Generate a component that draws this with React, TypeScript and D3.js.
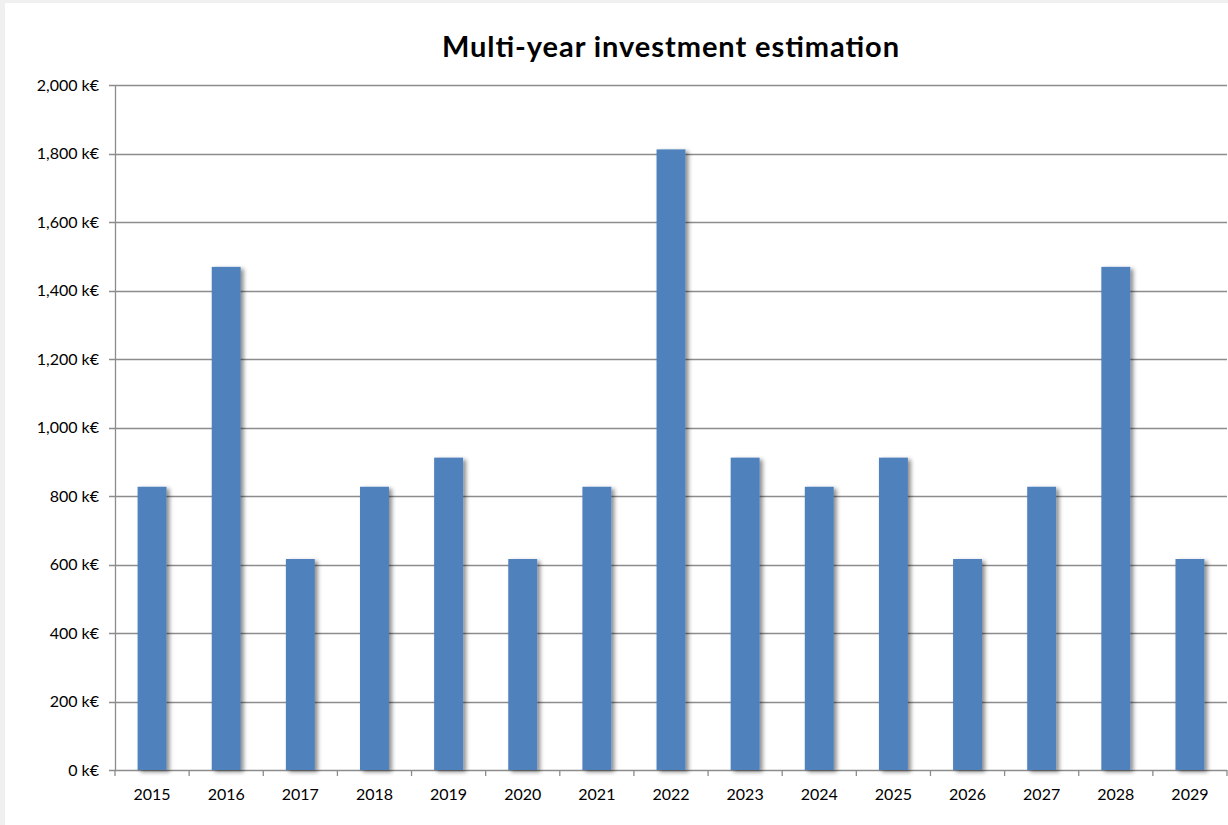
import React, { useMemo } from "react";
import * as d3 from "d3";

const years = ["2015","2016","2017","2018","2019","2020","2021","2022","2023","2024","2025","2026","2027","2028","2029"];
const investment = [827, 1469, 616, 827, 912, 616, 827, 1812, 912, 827, 912, 616, 827, 1469, 616];
const yTicks = [0, 200, 400, 600, 800, 1000, 1200, 1400, 1600, 1800, 2000];
const title = "Multi-year investment estimation";

const W = 1228;
const H = 825;
const M = { left: 115, right: 1227, top: 85, bottom: 770 };

export default function App() {
  const x = useMemo(() => d3.scaleBand<string>().domain(years).range([M.left, M.right]).paddingInner(0.61).paddingOuter(0.305), []);
  const y = useMemo(() => d3.scaleLinear().domain([0, 2000]).range([M.bottom, M.top]), []);
  const fmt = d3.format(",");
  const step = (M.right - M.left) / years.length;
  const font = "Lato, 'Open Sans', 'DejaVu Sans', sans-serif";
  const grid = "#8c8c8c";

  return (
    <svg width={W} height={H} style={{ position: "absolute", left: 0, top: 0, display: "block" }}>
      <defs>
        <filter id="shadow" x="-30%" y="-5%" width="160%" height="115%">
          <feDropShadow dx="3" dy="2" stdDeviation="2" floodColor="#000" floodOpacity="0.45" />
        </filter>
      </defs>
      <rect x={0} y={0} width={W} height={H} fill="#f0f0f0" />
      <rect x={5} y={3} width={W - 5} height={H - 3} fill="#ffffff" />
      <text x={442} y={57} textAnchor="start" fontFamily={font} fontWeight={700} fontSize={29} textLength={457} lengthAdjust="spacing" fill="#000">{title}</text>
      {yTicks.map((t) => (
        <g key={t}>
          <line x1={M.left - 6} x2={M.right} y1={Math.round(y(t)) + 0.5} y2={Math.round(y(t)) + 0.5} stroke={grid} strokeWidth={1.3} />
          <text x={99} y={y(t)} dy="0.35em" textAnchor="end" fontFamily={font} fontSize={16} fill="#000">{fmt(t)} k€</text>
        </g>
      ))}
      <line x1={M.left + 0.5} x2={M.left + 0.5} y1={M.top} y2={M.bottom} stroke={grid} strokeWidth={1.3} />
      {d3.range(years.length + 1).map((i) => (
        <line key={i} x1={M.left + i * step} x2={M.left + i * step} y1={M.bottom} y2={M.bottom + 6} stroke={grid} strokeWidth={1.3} />
      ))}
      {years.map((yr, i) => (
        <g key={yr}>
          <rect x={x(yr)} y={y(investment[i])} width={x.bandwidth()} height={y(0) - y(investment[i])} fill="#4f81bd" filter="url(#shadow)" />
          <text x={(x(yr) as number) + x.bandwidth() / 2} y={794} dy="0.35em" textAnchor="middle" fontFamily={font} fontSize={16} fill="#000">{yr}</text>
        </g>
      ))}
    </svg>
  );
}
